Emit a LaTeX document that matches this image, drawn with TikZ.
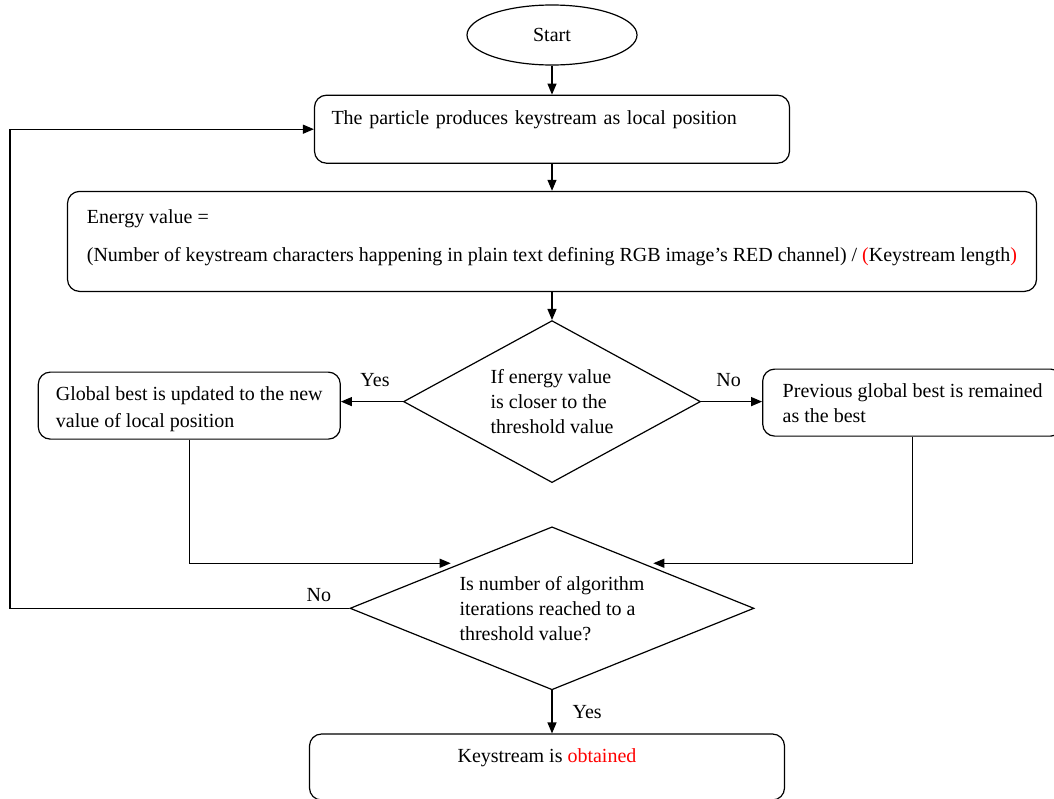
\documentclass[tikz,border=0pt]{standalone}
\usepackage{fontspec}
\setmainfont{Liberation Serif}
\usepackage{xcolor}
\usetikzlibrary{shapes.geometric,arrows.meta,positioning}

\begin{document}
\begin{tikzpicture}[
    x=1pt, y=-1pt,
    every node/.style={font=\fontsize{20}{25}\selectfont},
    block/.style={rectangle, draw, rounded corners=12pt, line width=1.2pt,
      align=left, inner ysep=0pt},
    choice/.style={diamond, draw, line width=1.2pt, align=left,
      inner xsep=-40pt, inner ysep=-20pt},
    lab/.style={inner sep=2pt},
    arr/.style={-{Triangle[length=11pt, width=9pt]}, line width=1.2pt},
  ]
    \useasboundingbox (0,0) rectangle (1054,798);

    % Nodes
    \node[draw, ellipse, line width=1.2pt, minimum width=170pt, minimum height=60pt] (start) at (552,35) {Start};
    \node[block, below=29pt of start, minimum width=475pt, text width=441pt, inner xsep=17pt,
      text height=29pt, text depth=39pt] (part) {The particle produces keystream as local position};
    \node[block, below=27pt of part, minimum width=969pt, inner xsep=14pt,
      text height=70pt, text depth=30pt] (energy) {Energy value =\\[13pt]
      (Number of keystream characters happening in plain text defining RGB image’s RED channel) / \textcolor{red}{(}Keystream length\textcolor{red}{)}};
    \node[choice, below=28pt of energy, minimum width=297pt, minimum height=162pt] (dia1)
      {If energy value\\is closer to the\\threshold value};
    \node[block, left=62pt of dia1, yshift=-4pt, minimum width=302pt, inner xsep=16pt,
      text height=55pt, text depth=12pt] (glob) {Global best is updated to the new\\[2pt]value of local position};
    \node[block, right=61pt of dia1, yshift=-1pt, minimum width=300pt, inner xsep=17pt,
      text height=53pt, text depth=14pt] (prev) {Previous global best is remained\\as the best};
    \node[choice, below=43pt of dia1, minimum width=404pt, minimum height=163pt] (dia2)
      {Is number of algorithm\\iterations reached to a\\threshold value?};
    \node[block, below=43pt of dia2, minimum width=475pt, align=center,
      text height=28pt, text depth=38pt, xshift=-5pt] (done) {Keystream is \textcolor{red}{obtained}};
    \coordinate (loop) at (10,0 |- dia2.west);

    % Arrows
    \draw[arr] (start) -- (part);
    \draw[arr] (part) -- (energy);
    \draw[arr] (energy) -- (dia1);
    \draw[arr] (dia1) -- node[lab, above=12pt, pos=0.45] {Yes} (glob.east |- dia1.west);
    \draw[arr] (dia1) -- node[lab, above=12pt, pos=0.45] {No} (prev.west |- dia1.east);
    \draw[arr] (glob.south) |- ([yshift=4pt]dia2.north west);
    \draw[arr] (prev.south) |- ([yshift=4pt]dia2.north east);
    \draw[arr] (dia2.west) -- node[lab, above=4pt, pos=0.09] {No} (loop) |- (part.west);
    \draw[arr] (dia2.south) -- node[lab, right=18pt, midway] {Yes} (done.north -| dia2.south);
  \end{tikzpicture}
\end{document}
